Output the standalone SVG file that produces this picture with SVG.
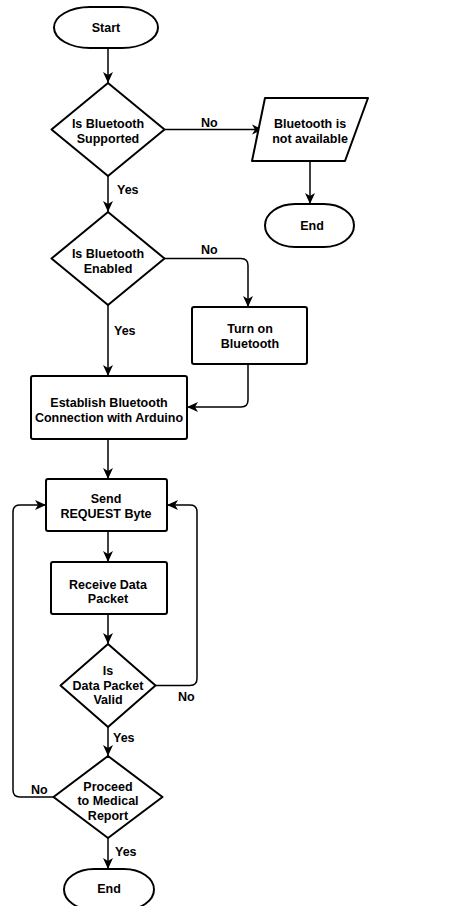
<svg xmlns="http://www.w3.org/2000/svg" width="454" height="906" viewBox="0 0 454 906">
<style>
.shape{fill:#fff;stroke:#000;stroke-width:2;stroke-linejoin:round}
.conn{fill:none;stroke:#000;stroke-width:1.5}
text{font-family:"Liberation Sans",Arial,sans-serif;font-weight:bold;font-size:12.5px;text-anchor:middle;fill:#000}
.lbl{text-anchor:start}
</style>
<defs>
<marker id="arr" markerUnits="userSpaceOnUse" markerWidth="12" markerHeight="12" viewBox="0 0 12 12" refX="11" refY="6" orient="auto">
<path d="M0,1 L11,6 L0,11 L3,6 z" fill="#000"/>
</marker>
</defs>
<rect width="454" height="906" fill="#fff"/>
<g id="connectors">
<path class="conn" d="M108,48 V83" marker-end="url(#arr)"/>
<path class="conn" d="M164.5,129.5 H263" marker-end="url(#arr)"/>
<path class="conn" d="M310,161 V204" marker-end="url(#arr)"/>
<path class="conn" d="M108,176 V212" marker-end="url(#arr)"/>
<path class="conn" d="M164.5,258.5 H241 Q248,258.5 248,265.5 V307" marker-end="url(#arr)"/>
<path class="conn" d="M108,305 V376" marker-end="url(#arr)"/>
<path class="conn" d="M248,364 V400 Q248,407 241,407 H187" marker-end="url(#arr)"/>
<path class="conn" d="M108,439 V479" marker-end="url(#arr)"/>
<path class="conn" d="M108,531 V562" marker-end="url(#arr)"/>
<path class="conn" d="M108,614 V644" marker-end="url(#arr)"/>
<path class="conn" d="M155.5,685.5 H190 Q197,685.5 197,678.5 V512 Q197,505 190,505 H167" marker-end="url(#arr)"/>
<path class="conn" d="M108,727 V756" marker-end="url(#arr)"/>
<path class="conn" d="M53.5,797 H20 Q13,797 13,790 V512 Q13,505 20,505 H46" marker-end="url(#arr)"/>
<path class="conn" d="M108,838 V869" marker-end="url(#arr)"/>
<text class="lbl" x="201" y="127">No</text>
<text class="lbl" x="117" y="194">Yes</text>
<text class="lbl" x="201" y="254">No</text>
<text class="lbl" x="114" y="335">Yes</text>
<text class="lbl" x="178" y="701">No</text>
<text class="lbl" x="113" y="742">Yes</text>
<text class="lbl" x="31" y="794">No</text>
<text class="lbl" x="115" y="856">Yes</text>
</g>
<g id="start">
<rect class="shape" x="54" y="7" width="104" height="41" rx="36" ry="20.5"/>
<text x="106" y="31.5">Start</text>
</g>
<g id="d-supported">
<polygon class="shape" points="108,83 164.5,129.5 108,176 51.5,129.5"/>
<text x="108" y="127.5">Is Bluetooth</text>
<text x="108" y="142.5">Supported</text>
</g>
<g id="not-available">
<polygon class="shape" points="265,98 368,98 345,161 252,161"/>
<text x="310" y="127.5">Bluetooth is</text>
<text x="310" y="142.5">not available</text>
</g>
<g id="end1">
<rect class="shape" x="265" y="204" width="89" height="43" rx="30" ry="21.5"/>
<text x="312" y="229.5">End</text>
</g>
<g id="d-enabled">
<polygon class="shape" points="108,212 164.5,258.5 108,305 51.5,258.5"/>
<text x="108" y="257.5">Is Bluetooth</text>
<text x="108" y="272.5">Enabled</text>
</g>
<g id="turn-on">
<rect class="shape" x="192" y="307" width="115" height="57" rx="2"/>
<text x="250" y="332.5">Turn on</text>
<text x="250" y="347.5">Bluetooth</text>
</g>
<g id="establish">
<rect class="shape" x="31" y="376" width="156" height="63" rx="2"/>
<text x="109" y="406.5">Establish Bluetooth</text>
<text x="109" y="421.5">Connection with Arduino</text>
</g>
<g id="send">
<rect class="shape" x="46" y="479" width="121" height="52" rx="2"/>
<text x="106" y="502.5">Send</text>
<text x="106" y="517.5">REQUEST Byte</text>
</g>
<g id="receive">
<rect class="shape" x="51" y="562" width="116" height="52" rx="2"/>
<text x="108" y="588.5">Receive Data</text>
<text x="108" y="602.5">Packet</text>
</g>
<g id="d-valid">
<polygon class="shape" points="108,644 155.5,685.5 108,727 60.5,685.5"/>
<text x="108" y="674.5">Is</text>
<text x="108" y="689.5">Data Packet</text>
<text x="108" y="703.5">Valid</text>
</g>
<g id="d-proceed">
<polygon class="shape" points="108,756 162.5,797 108,838 53.5,797"/>
<text x="108" y="790.5">Proceed</text>
<text x="108" y="804.5">to Medical</text>
<text x="108" y="819.5">Report</text>
</g>
<g id="end2">
<rect class="shape" x="64" y="869" width="90" height="41" rx="30" ry="20.5"/>
<text x="109" y="892.5">End</text>
</g>
</svg>
